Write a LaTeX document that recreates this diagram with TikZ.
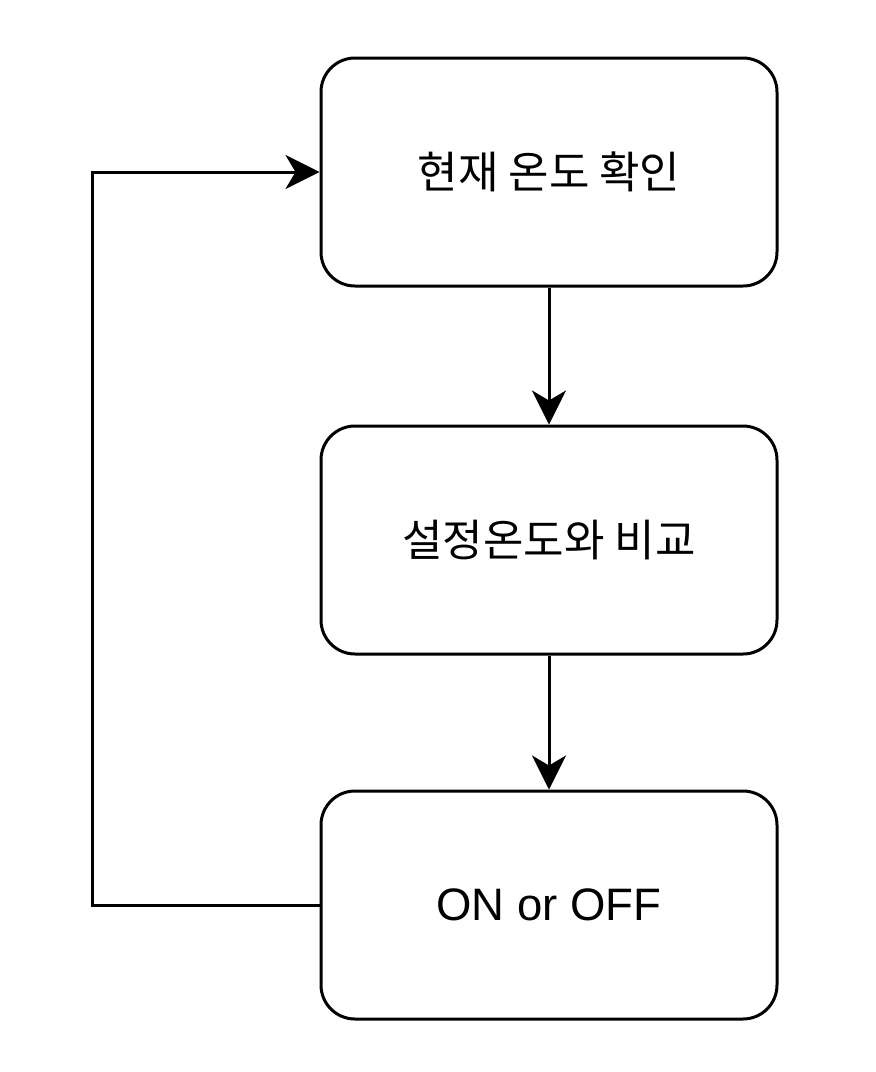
\documentclass[tikz,border=0pt]{standalone}
\usepackage{fontspec}
\setmainfont{Liberation Sans}
\newfontfamily\kr{Noto Sans CJK KR}
\usetikzlibrary{arrows.meta}
\begin{document}
\begin{tikzpicture}[x=1pt,y=-1pt,
  box/.style={draw, line width=3pt, rounded corners=34pt, minimum width=456pt, minimum height=228pt, inner sep=0pt, font=\fontsize{44}{50}\selectfont},
  conn/.style={line width=3pt, -{Stealth[length=34pt,width=34pt,inset=10pt]}}]
\useasboundingbox (0,0) rectangle (876,1072);
\fill[white] (0,0) rectangle (876,1072);
\node[box] (b1) at (549,172) {\kr 현재 온도 확인};
\node[box] (b2) at (549,540) {\kr 설정온도와 비교};
\node[box] (b3) at (549,905) {\fontsize{45.5}{50}\selectfont ON or OFF};
\coordinate (c1) at (92,905);
\coordinate (c2) at (92,172);
\draw[conn] (b1) -- (b2);
\draw[conn] (b2) -- (b3);
\draw[conn] (b3.west) -- (c1) -- (c2) -- (b1.west);
\end{tikzpicture}
\end{document}
